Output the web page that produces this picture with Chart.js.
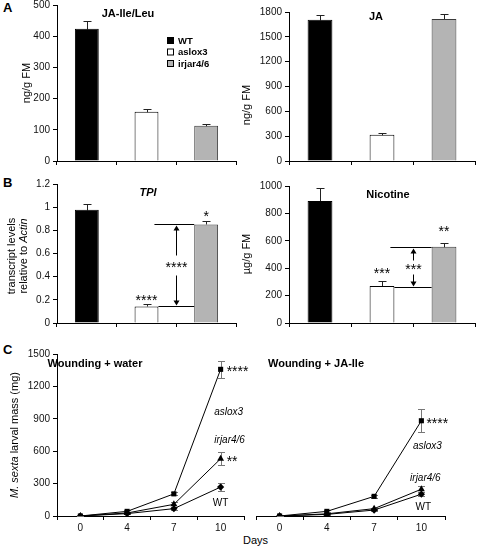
<!DOCTYPE html>
<html>
<head>
<meta charset="utf-8">
<script src="https://cdn.jsdelivr.net/npm/chart.js@4.4.0/dist/chart.umd.min.js"></script>
<style>
body{margin:0;background:#fff;width:478px;height:549px;overflow:hidden;position:relative;font-family:"Liberation Sans",Arial,sans-serif}
.box{position:absolute}
.lbl{position:absolute;font-weight:bold;font-size:13px;line-height:1}
</style>
</head>
<body>
<div class="lbl" style="left:3px;top:1px">A</div>
<div class="lbl" style="left:3px;top:176px">B</div>
<div class="lbl" style="left:3px;top:343px">C</div>
<div style="position:absolute;left:243px;top:535px;font-size:11px;line-height:1">Days</div>
<script>
// bar panels
var groups = ['WT', 'aslox3', 'irjar4/6'];
var jaIleMean = [424, 158, 113];
var jaIleErr = [25, 8, 5];
var jaMean = [1705, 316, 1716];
var jaErr = [55, 22, 62];
var tpiMean = [0.977, 0.143, 0.851];
var tpiErr = [0.05, 0.018, 0.03];
var nicMean = [890, 270, 557];
var nicErr = [96, 40, 28];

// larval mass panels
var days = ['0', '4', '7', '10'];
var waterAslox = [0, 43, 205, 1358];
var waterAsloxErr = [3, 8, 15, 80];
var waterIrjar = [0, 28, 108, 530];
var waterIrjarErr = [3, 6, 22, 62];
var waterWT = [0, 22, 68, 268];
var waterWTErr = [3, 5, 12, 35];
var jaAslox = [0, 43, 182, 882];
var jaAsloxErr = [3, 8, 12, 105];
var jaIrjar = [0, 20, 68, 248];
var jaIrjarErr = [3, 5, 10, 27];
var jaWT = [0, 15, 55, 202];
var jaWTErr = [3, 4, 8, 18];

var FONT = '"Liberation Sans", Arial, sans-serif';
var barFill = ['#000000', '#ffffff', '#b4b4b4'];

function drawParts(ctx, parts, x, y, rot) {
  ctx.save();
  ctx.translate(x, y);
  if (rot) ctx.rotate(-Math.PI / 2);
  var w = 0;
  parts.forEach(function (p) { ctx.font = p.f; w += ctx.measureText(p.t).width; });
  var cx = -w / 2;
  ctx.textBaseline = 'middle';
  ctx.textAlign = 'left';
  ctx.fillStyle = '#000';
  parts.forEach(function (p) { ctx.font = p.f; ctx.fillText(p.t, cx, 0); cx += ctx.measureText(p.t).width; });
  ctx.restore();
}

function star(ctx, t, x, y, align) {
  ctx.font = '14px ' + FONT;
  ctx.fillStyle = '#000';
  ctx.textAlign = align;
  ctx.textBaseline = 'middle';
  ctx.fillText(t, x, y + 3);
}

var extras = {
  id: 'extras',
  beforeDatasetsDraw: function (chart, args, o) {
    var ctx = chart.ctx, ys = chart.scales.y;
    ctx.save();
    ctx.strokeStyle = o.errColor || '#000';
    ctx.lineWidth = 1;
    (o.errors || []).forEach(function (errs, di) {
      var vals = chart.data.datasets[di].data;
      chart.getDatasetMeta(di).data.forEach(function (el, i) {
        if (!errs[i]) return;
        var x = Math.round(el.x) + 0.5;
        var top = Math.round(ys.getPixelForValue(vals[i] + errs[i])) + 0.5;
        var bot = Math.round(ys.getPixelForValue(o.oneSided ? vals[i] : vals[i] - errs[i])) + 0.5;
        ctx.beginPath();
        ctx.moveTo(x, bot); ctx.lineTo(x, top);
        ctx.moveTo(x - o.cap, top); ctx.lineTo(x + o.cap, top);
        if (!o.oneSided) { ctx.moveTo(x - o.cap, bot); ctx.lineTo(x + o.cap, bot); }
        ctx.stroke();
      });
    });
    ctx.restore();
  },
  afterDatasetsDraw: function (chart, args, o) {
    var ctx = chart.ctx, ys = chart.scales.y;
    ctx.save();
    if (o.bracket) {
      var b = o.bracket, els = chart.getDatasetMeta(0).data;
      var xa = els[b.from].x + els[b.from].width / 2;
      var xb = els[b.to].x - els[b.to].width / 2;
      var yh = Math.round(ys.getPixelForValue(b.hi)) + 0.5;
      var yl = Math.round(ys.getPixelForValue(b.lo)) + 0.5;
      var xm = Math.round((xa + xb) / 2) + 0.5;
      var ym = (yh + yl) / 2;
      ctx.strokeStyle = '#000'; ctx.fillStyle = '#000'; ctx.lineWidth = 1;
      ctx.beginPath();
      ctx.moveTo(xa - 4, yh); ctx.lineTo(xb, yh);
      ctx.moveTo(xa, yl); ctx.lineTo(xb, yl);
      ctx.moveTo(xm, yh + 4); ctx.lineTo(xm, ym - b.gap);
      ctx.moveTo(xm, ym + b.gap); ctx.lineTo(xm, yl - 4);
      ctx.stroke();
      ctx.beginPath();
      ctx.moveTo(xm, yh + 1); ctx.lineTo(xm - 3, yh + 6); ctx.lineTo(xm + 3, yh + 6); ctx.closePath();
      ctx.moveTo(xm, yl - 1); ctx.lineTo(xm - 3, yl - 6); ctx.lineTo(xm + 3, yl - 6); ctx.closePath();
      ctx.fill();
      star(ctx, b.text, xm, ym, 'center');
    }
    (o.notes || []).forEach(function (n) {
      var el = chart.getDatasetMeta(n.ds || 0).data[n.i];
      var x = el.x + (n.dx || 0), y = ys.getPixelForValue(n.v);
      if (n.t.charAt(0) === '*') { star(ctx, n.t, x, y, n.align || 'center'); return; }
      ctx.font = n.f || ('10px ' + FONT);
      ctx.fillStyle = '#000';
      ctx.textAlign = n.align || 'center';
      ctx.textBaseline = 'middle';
      ctx.fillText(n.t, x, y);
    });
    // free text in page coordinates
    ctx.translate(-o.pos.left, -o.pos.top);
    (o.texts || []).forEach(function (t) { drawParts(ctx, t.parts, t.x, t.y, t.rot); });
    if (o.legend) {
      var lg = o.legend;
      groups.forEach(function (g, i) {
        var y = lg.y + i * lg.step;
        ctx.fillStyle = barFill[i];
        ctx.fillRect(lg.x + 0.5, y - 3.5, 6, 6);
        ctx.strokeStyle = '#000';
        ctx.strokeRect(lg.x + 0.5, y - 3.5, 6, 6);
        ctx.fillStyle = '#000';
        ctx.font = 'bold 9.5px ' + FONT;
        ctx.textAlign = 'left';
        ctx.textBaseline = 'middle';
        ctx.fillText(g, lg.x + 11, y);
      });
    }
    ctx.restore();
  }
};

function makeChart(pos, area, type, labels, datasets, yopt, showX, extra) {
  var box = document.createElement('div');
  box.className = 'box';
  box.style.left = pos.left + 'px';
  box.style.top = pos.top + 'px';
  var cv = document.createElement('canvas');
  cv.width = pos.w;
  cv.height = pos.h;
  box.appendChild(cv);
  document.body.appendChild(box);
  extra.pos = pos;
  var yw = area.l - pos.left, xh = pos.top + pos.h - area.b;
  var hideY = yopt.hide === true;
  return new Chart(cv, {
    type: type,
    data: { labels: labels, datasets: datasets },
    options: {
      responsive: false,
      animation: false,
      devicePixelRatio: 1,
      layout: { padding: { top: area.t - pos.top, right: pos.left + pos.w - area.r, left: 0, bottom: 0 } },
      plugins: { legend: { display: false }, tooltip: { enabled: false }, extras: extra },
      scales: {
        x: {
          offset: true,
          grid: { offset: true, drawOnChartArea: false, tickLength: 4, color: '#000' },
          border: { color: '#000' },
          ticks: { display: showX, font: { family: FONT, size: 10 }, color: '#111', padding: 2, maxRotation: 0 },
          afterFit: function (s) { s.height = xh; }
        },
        y: {
          min: yopt.min,
          max: yopt.max,
          ticks: {
            display: !hideY, stepSize: yopt.step, font: { family: FONT, size: 10 }, color: '#111', padding: 3,
            callback: function (v) { return String(+v.toFixed(3)); }
          },
          grid: { display: !hideY, drawOnChartArea: false, tickLength: 4, color: '#000' },
          border: { display: !hideY, color: '#000' },
          afterFit: function (s) { s.width = yw; }
        }
      }
    },
    plugins: [extras]
  });
}

function barSet(vals) {
  return {
    data: vals,
    backgroundColor: barFill,
    borderColor: ['#000', '#000', '#3a3a3a'],
    borderWidth: 1,
    barPercentage: 0.4,
    categoryPercentage: 1
  };
}

function lineSet(vals, style) {
  return {
    data: vals,
    borderColor: '#000',
    borderWidth: 1,
    pointStyle: style,
    pointRadius: style === 'triangle' ? 4 : 3.6,
    pointBackgroundColor: '#000',
    pointBorderColor: '#000',
    pointBorderWidth: 0,
    tension: 0,
    fill: false
  };
}

var T = 'bold 11px ' + FONT, R = '11px ' + FONT, I = 'italic 11px ' + FONT;
var LI = 'italic 10px ' + FONT, L = '10px ' + FONT;

// A left: JA-Ile/Leu
makeChart({ left: 0, top: -5, w: 240, h: 175 }, { l: 57, t: 5, r: 236, b: 162 }, 'bar', groups,
  [barSet(jaIleMean)], { min: 0, max: 500, step: 100 }, false, {
    errors: [jaIleErr], oneSided: true, cap: 4, errColor: '#222',
    legend: { x: 167, y: 41, step: 11.5 },
    texts: [
      { parts: [{ t: 'JA-Ile/Leu', f: T }], x: 128, y: 14 },
      { parts: [{ t: 'ng/g FM', f: R }], x: 27, y: 83, rot: true }
    ]
  });

// A right: JA
makeChart({ left: 238, top: -2, w: 240, h: 172 }, { l: 289, t: 12, r: 475, b: 162 }, 'bar', groups,
  [barSet(jaMean)], { min: 0, max: 1800, step: 300 }, false, {
    errors: [jaErr], oneSided: true, cap: 4, errColor: '#222',
    texts: [
      { parts: [{ t: 'JA', f: T }], x: 376, y: 17 },
      { parts: [{ t: 'ng/g FM', f: R }], x: 247, y: 105, rot: true }
    ]
  });

// B left: TPI
makeChart({ left: 0, top: 170, w: 240, h: 162 }, { l: 57, t: 184, r: 236, b: 324 }, 'bar', groups,
  [barSet(tpiMean)], { min: 0, max: 1.2, step: 0.2 }, false, {
    errors: [tpiErr], oneSided: true, cap: 4, errColor: '#222',
    bracket: { from: 1, to: 2, lo: 0.143, hi: 0.854, text: '****', gap: 10 },
    notes: [{ i: 1, v: 0.215, t: '****' }, { i: 2, v: 0.94, t: '*' }],
    texts: [
      { parts: [{ t: 'TPI', f: 'bold italic 11px ' + FONT }], x: 148, y: 193 },
      { parts: [{ t: 'transcript levels', f: R }], x: 12, y: 256, rot: true },
      { parts: [{ t: 'relative to ', f: R }, { t: 'Actin', f: I }], x: 24, y: 256, rot: true }
    ]
  });

// B right: Nicotine
makeChart({ left: 238, top: 170, w: 240, h: 162 }, { l: 289, t: 186, r: 475, b: 324 }, 'bar', groups,
  [barSet(nicMean)], { min: 0, max: 1000, step: 200 }, false, {
    errors: [nicErr], oneSided: true, cap: 4, errColor: '#222',
    bracket: { from: 1, to: 2, lo: 261, hi: 555, text: '***', gap: 7 },
    notes: [{ i: 1, v: 377, t: '***' }, { i: 2, v: 688, t: '**' }],
    texts: [
      { parts: [{ t: 'Nicotine', f: T }], x: 388, y: 195 },
      { parts: [{ t: 'µg/g FM', f: R }], x: 247, y: 254, rot: true }
    ]
  });

// C left: wounding + water
makeChart({ left: 0, top: 340, w: 256, h: 196 }, { l: 57, t: 354, r: 244, b: 516 }, 'line', days,
  [lineSet(waterAslox, 'rect'), lineSet(waterIrjar, 'triangle'), lineSet(waterWT, 'rectRot')],
  { min: 0, max: 1500, step: 300 }, true, {
    errors: [waterAsloxErr, waterIrjarErr, waterWTErr], oneSided: false, cap: 3.5, errColor: '#777',
    notes: [
      { ds: 0, i: 3, v: 1358, t: '****', dx: 6, align: 'left' },
      { ds: 1, i: 3, v: 530, t: '**', dx: 6, align: 'left' },
      { ds: 0, i: 3, v: 965, t: 'aslox3', dx: 8, f: LI },
      { ds: 1, i: 3, v: 702, t: 'irjar4/6', dx: 9, f: LI },
      { ds: 2, i: 3, v: 114, t: 'WT', dx: 0, f: L }
    ],
    texts: [
      { parts: [{ t: 'Wounding + water', f: T }], x: 95, y: 364 },
      { parts: [{ t: 'M. sexta', f: I }, { t: ' larval mass (mg)', f: R }], x: 15, y: 435, rot: true }
    ]
  });

// C right: wounding + JA-Ile
makeChart({ left: 248, top: 340, w: 230, h: 196 }, { l: 256, t: 354, r: 445, b: 516 }, 'line', days,
  [lineSet(jaAslox, 'rect'), lineSet(jaIrjar, 'triangle'), lineSet(jaWT, 'rectRot')],
  { min: 0, max: 1500, step: 300, hide: true }, true, {
    errors: [jaAsloxErr, jaIrjarErr, jaWTErr], oneSided: false, cap: 3.5, errColor: '#777',
    notes: [
      { ds: 0, i: 3, v: 882, t: '****', dx: 5, align: 'left' },
      { ds: 0, i: 3, v: 646, t: 'aslox3', dx: 6, f: LI },
      { ds: 1, i: 3, v: 346, t: 'irjar4/6', dx: 4, f: LI },
      { ds: 2, i: 3, v: 84, t: 'WT', dx: 2, f: L }
    ],
    texts: [
      { parts: [{ t: 'Wounding + JA-Ile', f: T }], x: 316, y: 364 }
    ]
  });
</script>
</body>
</html>
